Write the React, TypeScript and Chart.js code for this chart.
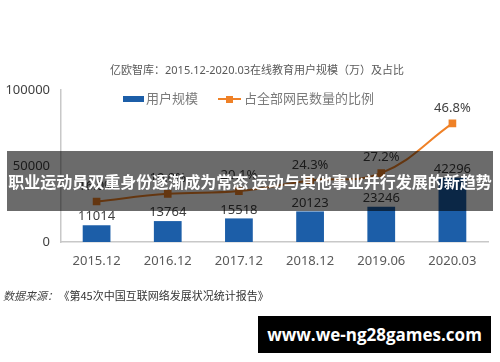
import React, { useEffect, useRef } from "react";
import { Chart, registerables } from "chart.js";

Chart.register(...registerables);

const categories = ["2015.12", "2016.12", "2017.12", "2018.12", "2019.06", "2020.03"];
const users = [11014, 13764, 15518, 20123, 23246, 42296];
const ratio = [16.0, 19.0, 20.1, 24.3, 27.2, 46.8];
const yTicks = [0, 50000, 100000];

const titleText = "亿欧智库：2015.12-2020.03在线教育用户规模（万）及占比";
const legendBar = "用户规模";
const legendLine = "占全部网民数量的比例";
const sourceLabel = "数据来源：";
const sourceText = "《第45次中国互联网络发展状况统计报告》";
const bannerText = "职业运动员双重身份逐渐成为常态 运动与其他事业并行发展的新趋势";
const watermark = "www.we-ng28games.com";

const BLUE = "#1c5ea8";
const ORANGE = "#ef8127";
const FONT = '"Noto Sans", "Noto Sans CJK SC", sans-serif';

const overlayPlugin = {
  id: "overlay",
  afterDatasetsDraw(chart: any) {
    const ctx = chart.ctx;
    ctx.save();
    // bar value labels
    const barMeta = chart.getDatasetMeta(1);
    ctx.font = `13px ${FONT}`;
    ctx.fillStyle = "#404040";
    ctx.textAlign = "center";
    ctx.textBaseline = "bottom";
    barMeta.data.forEach((el: any, i: number) => {
      ctx.fillText(String(users[i]), el.x, el.y - 2);
    });
    // line value labels
    const lineMeta = chart.getDatasetMeta(0);
    lineMeta.data.forEach((el: any, i: number) => {
      ctx.fillText(ratio[i].toFixed(1) + "%", el.x, el.y - 9);
    });
    // title
    ctx.font = `11px ${FONT}`;
    ctx.fillStyle = "#595959";
    ctx.textBaseline = "middle";
    ctx.fillText(titleText, 257, 71);
    // legend
    ctx.fillStyle = BLUE;
    ctx.fillRect(123, 96, 21, 6);
    ctx.font = `13px ${FONT}`;
    ctx.fillStyle = "#7a7a7a";
    ctx.textAlign = "left";
    ctx.fillText(legendBar, 146, 99);
    ctx.strokeStyle = ORANGE;
    ctx.lineWidth = 2;
    ctx.beginPath();
    ctx.moveTo(218, 99);
    ctx.lineTo(241, 99);
    ctx.stroke();
    ctx.fillStyle = ORANGE;
    ctx.fillRect(226, 96, 7, 7);
    ctx.fillStyle = "#7a7a7a";
    ctx.fillText(legendLine, 244, 99);
    ctx.restore();
  },
};

function App() {
  const ref = useRef<HTMLCanvasElement>(null);
  useEffect(() => {
    const chart = new Chart(ref.current!, {
      type: "bar",
      data: {
        labels: categories,
        datasets: [
          {
            type: "line",
            label: legendLine,
            data: ratio,
            yAxisID: "y1",
            borderColor: ORANGE,
            backgroundColor: ORANGE,
            borderWidth: 2,
            tension: 0.4,
            pointStyle: "rect",
            pointRadius: 4,
            pointBackgroundColor: ORANGE,
            pointBorderColor: ORANGE,
            order: 0,
          } as any,
          {
            type: "bar",
            label: legendBar,
            data: users,
            yAxisID: "y",
            backgroundColor: BLUE,
            barPercentage: 0.39,
            categoryPercentage: 1,
            order: 1,
          },
        ],
      },
      options: {
        animation: false,
        responsive: false,
        layout: { padding: { top: 90, left: 0, right: 12, bottom: 0 } },
        plugins: { legend: { display: false }, tooltip: { enabled: false }, title: { display: false } },
        scales: {
          x: {
            grid: { display: false, drawTicks: false },
            border: { display: true, color: "#c8c8c8", width: 1.5 },
            ticks: { color: "#595959", font: { size: 13, family: FONT }, padding: 11 },
            afterFit: (s: any) => { s.height = 120; },
          },
          y: {
            min: 0,
            max: 100000,
            afterBuildTicks: (s: any) => { s.ticks = yTicks.map((v) => ({ value: v })); },
            grid: { display: false, drawTicks: false },
            border: { display: true, color: "#c8c8c8", width: 1.5 },
            ticks: {
              color: "#404040",
              font: { size: 13, family: FONT },
              padding: 11,
              callback: (v: any) => String(v),
            },
            afterFit: (s: any) => { s.width = 61; },
          },
          y1: { display: false, min: 0, max: 60, position: "right" },
        },
      },
      plugins: [overlayPlugin],
    });
    return () => chart.destroy();
  }, []);

  return (
    <div style={{ position: "fixed", left: 0, top: 0, width: 500, height: 362, background: "#fff", overflow: "hidden" }}>
      <canvas ref={ref} width={500} height={362} style={{ position: "absolute", left: 0, top: 0 }} />
      <div style={{ position: "absolute", left: 7, top: 151, width: 486, height: 60, background: "rgba(0,0,0,0.58)", display: "flex", alignItems: "center", justifyContent: "center" }}>
        <span style={{ color: "#fff", fontWeight: "bold", fontSize: 16, fontFamily: '"Noto Sans CJK SC", sans-serif', whiteSpace: "nowrap" }}>{bannerText}</span>
      </div>
      <div style={{ position: "absolute", left: 3, top: 287, fontSize: 11, color: "#333", fontFamily: '"Noto Sans CJK SC", sans-serif', whiteSpace: "nowrap" }}>
        <span style={{ fontStyle: "italic", color: "#444", marginRight: 6 }}>{sourceLabel}</span>
        <span>{sourceText}</span>
      </div>
      <div style={{ position: "absolute", left: 258, top: 316, width: 233, height: 37, background: "#000", display: "flex", alignItems: "center", justifyContent: "center" }}>
        <span style={{ color: "#fff", fontWeight: "bold", fontSize: 17, fontFamily: '"Open Sans", sans-serif', whiteSpace: "nowrap" }}>{watermark}</span>
      </div>
    </div>
  );
}

export default App;
